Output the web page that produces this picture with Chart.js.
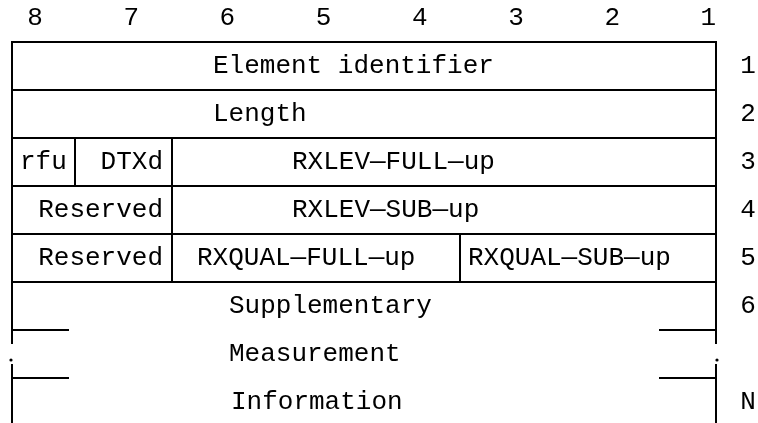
<!DOCTYPE html>
<html>
<head>
<meta charset="utf-8">
<script src="https://cdn.jsdelivr.net/npm/chart.js@4"></script>
<style>
html,body{margin:0;padding:0;background:#fff;}
#c{display:block;}
</style>
</head>
<body>
<canvas id="c" width="758" height="423"></canvas>
<script>
// ---- data ----
const bitLabels = ['8','7','6','5','4','3','2','1'];
const octetLabels = ['1','2','3','4','5','6','','N'];
const fieldNames = ['Element identifier','Length','rfu','DTXd','RXLEV\u2014FULL\u2014up',
  'Reserved','RXLEV\u2014SUB\u2014up','Reserved','RXQUAL\u2014FULL\u2014up','RXQUAL\u2014SUB\u2014up',
  'Supplementary','Measurement','Information'];
const fieldRows = [1,2,3,3,3,4,4,5,5,5,6,7,8];
// field bit spans (high bit, low bit)
const fieldHigh = [8,8,8,7,6,8,6,8,6,3,8,8,8];
const fieldLow  = [1,1,8,7,1,7,1,7,4,1,1,1,1];

// ---- layout (diagram units) ----
const boxL = 12, boxR = 716, top0 = 42, rowH = 48;
const edgeX = {8:12, 7:75, 6:172, 3:460, 0:716}; // boundary positions below a bit
const textAnchor = [[213,'left'],[213,'left'],[20,'left'],[163,'right'],[292,'left'],
  [163,'right'],[292,'left'],[163,'right'],[197,'left'],[468,'left'],
  [229,'left'],[229,'left'],[231,'left']];
const FONT = '26px "Liberation Mono", "Courier New", monospace';

function rowTop(r){ return top0 + rowH*(r-1); }
function boundaryX(lowBit){ return edgeX[lowBit-1] !== undefined ? edgeX[lowBit-1] : null; }

const segs = [];
// horizontal row lines (top of rows 1..6)
for (let r = 1; r <= 6; r++) segs.push([[boxL,rowTop(r)],[boxR,rowTop(r)]]);
// vertical dividers between fields
fieldNames.forEach((n,i)=>{
  if (fieldLow[i] > 1) {
    const x = boundaryX(fieldLow[i]);
    segs.push([[x,rowTop(fieldRows[i])],[x,rowTop(fieldRows[i])+rowH]]);
  }
});
// outer verticals with break
const breakY0 = 343, breakY1 = 365, bottomY = 423;
[boxL, boxR].forEach(x=>{
  segs.push([[x,top0],[x,breakY0]]);
  segs.push([[x,breakY1],[x,bottomY]]);
});
// stubs
const stubW = 56;
[rowTop(7), rowTop(8)].forEach(y=>{
  segs.push([[boxL,y],[boxL+stubW,y]]);
  segs.push([[boxR-stubW,y],[boxR,y]]);
});

const datasets = segs.map(s=>({
  type:'line',
  data: s.map(p=>({x:p[0],y:p[1]})),
  borderColor:'#000', borderWidth:2, pointRadius:0, fill:false, tension:0,
  borderCapStyle:'square'
}));
datasets.push({
  type:'scatter',
  data:[{x:boxL-1,y:360},{x:boxR+1,y:360}],
  pointRadius:1.6, pointBackgroundColor:'#000', pointBorderWidth:0
});

const textPlugin = {
  id:'texts',
  afterDatasetsDraw(chart){
    const {ctx, scales:{x, y}} = chart;
    ctx.save();
    ctx.fillStyle = '#000';
    ctx.font = FONT;
    ctx.textBaseline = 'alphabetic';
    // bit labels
    ctx.textAlign = 'center';
    bitLabels.forEach((t,i)=>{
      ctx.fillText(t, x.getPixelForValue(35 + 96.2*i), y.getPixelForValue(25));
    });
    // octet labels
    octetLabels.forEach((t,i)=>{
      if (!t) return;
      ctx.fillText(t, x.getPixelForValue(748), y.getPixelForValue(rowTop(i+1)+rowH/2+7));
    });
    // fields
    fieldNames.forEach((t,i)=>{
      const [ax, al] = textAnchor[i];
      ctx.textAlign = al;
      ctx.fillText(t, x.getPixelForValue(ax), y.getPixelForValue(rowTop(fieldRows[i])+rowH/2+7));
    });
    ctx.restore();
  }
};

new Chart(document.getElementById('c'), {
  type:'scatter',
  data:{datasets},
  options:{
    responsive:false, animation:false, devicePixelRatio:1,
    layout:{padding:0, autoPadding:false},
    plugins:{legend:{display:false}, tooltip:{enabled:false}},
    scales:{
      x:{type:'linear', min:0, max:758, display:false},
      y:{type:'linear', min:0, max:423, reverse:true, display:false}
    }
  },
  plugins:[textPlugin]
});
</script>
</body>
</html>
